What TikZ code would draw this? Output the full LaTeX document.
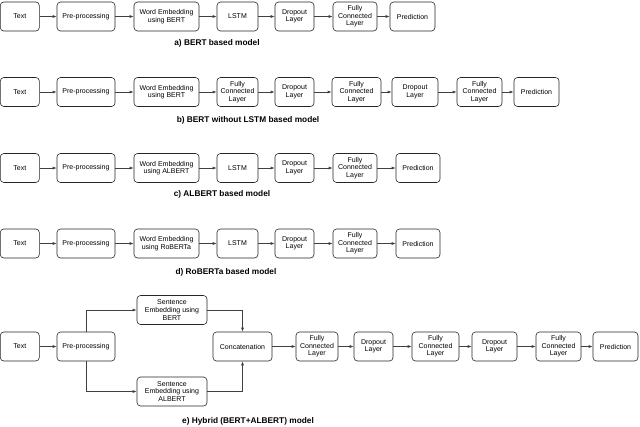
\documentclass[tikz,border=0pt]{standalone}
\usepackage{fontspec}
\setmainfont{Liberation Sans}
\usetikzlibrary{arrows.meta}
\begin{document}
\begin{tikzpicture}
	[
	x=1pt, y=-1pt,
	align=center,
	box/.style={draw=black!85, line width=0.6pt, rounded corners=3.5pt, minimum width=#1, minimum height=29pt, inner sep=1pt, font=\fontsize{7}{7.6}\selectfont},
	caption/.style={font=\fontsize{8.3}{9}\selectfont\bfseries},
	arr/.style={draw=black!75, line width=0.6pt, -{Latex[length=4pt,width=3pt]}}
	]
		\useasboundingbox (0,0) rectangle (640,426);
		
		% model a
		\node[box=39] (a1) at (19.8, 16.5) {Text};
		\node[box=58] (a2) at (86, 16.5) {Pre-processing};
		\node[box=65] (a3) at (166.5, 16.5) {Word Embedding\\using BERT};
		\node[box=41] (a4) at (237.5, 16.5) {LSTM};
		\node[box=39] (a5) at (294.5, 16.5) {Dropout\\Layer};
		\node[box=44] (a6) at (355, 16.5) {Fully\\Connected\\Layer};
		\node[box=45] (a7) at (412.5, 16.5) {Prediction};
		\node[caption] (ca) at (217, 43) {a) BERT based model};
		
		% model b
		\node[box=39] (b1) at (19.8, 92) {Text};
		\node[box=58] (b2) at (86, 92) {Pre-processing};
		\node[box=65] (b3) at (166.5, 92) {Word Embedding\\using BERT};
		\node[box=41] (b4) at (237.5, 92) {Fully\\Connected\\Layer};
		\node[box=39] (b5) at (294.5, 92) {Dropout\\Layer};
		\node[box=49] (b6) at (356.5, 92) {Fully\\Connected\\Layer};
		\node[box=46] (b7) at (415, 92) {Dropout\\Layer};
		\node[box=45] (b8) at (479.5, 92) {Fully\\Connected\\Layer};
		\node[box=45] (b9) at (536.5, 92) {Prediction};
		\node[caption] (cb) at (248, 120) {b) BERT without LSTM based model};
		
		% model c
		\node[box=39] (c1) at (19.8, 168) {Text};
		\node[box=58] (c2) at (86, 168) {Pre-processing};
		\node[box=65] (c3) at (166.5, 168) {Word Embedding\\using ALBERT};
		\node[box=41] (c4) at (237.5, 168) {LSTM};
		\node[box=39] (c5) at (294.5, 168) {Dropout\\Layer};
		\node[box=44] (c6) at (355, 168) {Fully\\Connected\\Layer};
		\node[box=44] (c7) at (418, 168) {Prediction};
		\node[caption] (cc) at (222, 194) {c) ALBERT based model};
		
		% model d
		\node[box=39] (d1) at (19.8, 243.5) {Text};
		\node[box=58] (d2) at (86, 243.5) {Pre-processing};
		\node[box=65] (d3) at (166.5, 243.5) {Word Embedding\\using RoBERTa};
		\node[box=41] (d4) at (237.5, 243.5) {LSTM};
		\node[box=39] (d5) at (294.5, 243.5) {Dropout\\Layer};
		\node[box=44] (d6) at (355, 243.5) {Fully\\Connected\\Layer};
		\node[box=44] (d7) at (418, 243.5) {Prediction};
		\node[caption] (cd) at (226, 272) {d) RoBERTa based model};
		
		% model e
		\node[box=39] (e1) at (19.8, 346.5) {Text};
		\node[box=58] (e2) at (86, 346.5) {Pre-processing};
		\node[box=70] (e3) at (172, 310) {Sentence\\Embedding using\\BERT};
		\node[box=70] (e4) at (172, 391.5) {Sentence\\Embedding using\\ALBERT};
		\node[box=59] (e5) at (242.5, 346.5) {Concatenation};
		\node[box=42] (e6) at (317, 346.5) {Fully\\Connected\\Layer};
		\node[box=39] (e7) at (373.5, 346.5) {Dropout\\Layer};
		\node[box=47] (e8) at (435.5, 346.5) {Fully\\Connected\\Layer};
		\node[box=45] (e9) at (494.5, 346.5) {Dropout\\Layer};
		\node[box=45] (e10) at (558.5, 346.5) {Fully\\Connected\\Layer};
		\node[box=45] (e11) at (615.5, 346.5) {Prediction};
		\node[caption] (ce) at (248, 421) {e) Hybrid (BERT+ALBERT) model};
		
		% drawing code
		\foreach \from/\to in {a1/a2,a2/a3,a3/a4,a4/a5,a5/a6,a6/a7} \draw[arr] (\from) -- (\to);
		\foreach \from/\to in {b1/b2,b2/b3,b3/b4,b4/b5,b5/b6,b6/b7,b7/b8,b8/b9} \draw[arr] (\from) -- (\to);
		\foreach \from/\to in {c1/c2,c2/c3,c3/c4,c4/c5,c5/c6,c6/c7} \draw[arr] (\from) -- (\to);
		\foreach \from/\to in {d1/d2,d2/d3,d3/d4,d4/d5,d5/d6,d6/d7} \draw[arr] (\from) -- (\to);
		\foreach \from/\to in {e1/e2,e5/e6,e6/e7,e7/e8,e8/e9,e9/e10,e10/e11} \draw[arr] (\from) -- (\to);
		\draw[arr] (e2.north) |- (e3.west);
		\draw[arr] (e2.south) |- (e4.west);
		\draw[arr] (e3.east) -| (e5.north);
		\draw[arr] (e4.east) -| (e5.south);
	\end{tikzpicture}
\end{document}
